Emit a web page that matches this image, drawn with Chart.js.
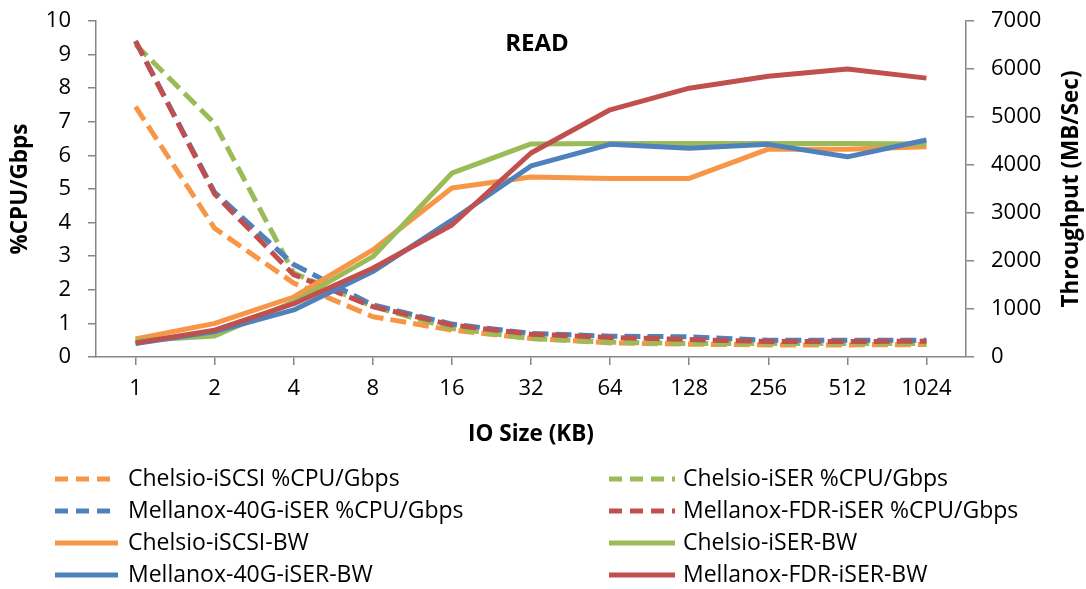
<!DOCTYPE html>
<html>
<head>
<meta charset="utf-8">
<script src="https://cdn.jsdelivr.net/npm/chart.js@4/dist/chart.umd.min.js"></script>
<style>
  html, body { margin: 0; padding: 0; background: #fff; }
  #wrap { width: 1086px; height: 589px; position: relative; }
</style>
</head>
<body>
<div id="wrap"><canvas id="chart"></canvas></div>
<script>
const FONT = '"Open Sans", Lato, sans-serif';

const ioSizes = ['1', '2', '4', '8', '16', '32', '64', '128', '256', '512', '1024'];

const cpuChelsioIscsi = [7.45, 3.83, 2.2, 1.2, 0.8, 0.55, 0.42, 0.38, 0.36, 0.36, 0.37];
const cpuChelsioIser = [9.3, 6.95, 2.5, 1.5, 0.85, 0.55, 0.44, 0.4, 0.4, 0.4, 0.4];
const cpuMellanox40g = [9.4, 4.9, 2.75, 1.55, 0.98, 0.7, 0.62, 0.6, 0.5, 0.5, 0.5];
const cpuMellanoxFdr = [9.4, 4.85, 2.45, 1.5, 0.95, 0.68, 0.58, 0.52, 0.46, 0.46, 0.47];

const bwChelsioIscsi = [375, 700, 1250, 2230, 3520, 3750, 3720, 3720, 4330, 4330, 4380];
const bwChelsioIser = [340, 440, 1150, 2090, 3830, 4440, 4450, 4450, 4450, 4450, 4440];
const bwMellanox40g = [280, 530, 980, 1780, 2850, 3980, 4430, 4350, 4430, 4170, 4520];
const bwMellanoxFdr = [290, 560, 1110, 1850, 2750, 4250, 5150, 5600, 5850, 6000, 5810];

const ORANGE = '#F79646';
const GREEN = '#9BBB59';
const BLUE = '#4F81BD';
const RED = '#C0504D';
const AXIS = '#868686';

const series = [
  {label: 'Chelsio-iSCSI %CPU/Gbps', data: cpuChelsioIscsi, color: ORANGE, axis: 'y', dashed: true},
  {label: 'Chelsio-iSER %CPU/Gbps', data: cpuChelsioIser, color: GREEN, axis: 'y', dashed: true},
  {label: 'Mellanox-40G-iSER %CPU/Gbps', data: cpuMellanox40g, color: BLUE, axis: 'y', dashed: true},
  {label: 'Mellanox-FDR-iSER %CPU/Gbps', data: cpuMellanoxFdr, color: RED, axis: 'y', dashed: true},
  {label: 'Chelsio-iSCSI-BW', data: bwChelsioIscsi, color: ORANGE, axis: 'y1', dashed: false},
  {label: 'Chelsio-iSER-BW', data: bwChelsioIser, color: GREEN, axis: 'y1', dashed: false},
  {label: 'Mellanox-40G-iSER-BW', data: bwMellanox40g, color: BLUE, axis: 'y1', dashed: false},
  {label: 'Mellanox-FDR-iSER-BW', data: bwMellanoxFdr, color: RED, axis: 'y1', dashed: false}
];

const datasets = series.map((s, i) => ({
  label: s.label,
  data: s.data,
  yAxisID: s.axis,
  borderColor: s.color,
  backgroundColor: s.color,
  borderWidth: 5,
  borderDash: s.dashed ? [16, 7] : [],
  borderJoinStyle: 'round',
  pointRadius: 0,
  tension: 0,
  fill: false,
  order: series.length - i
}));

// title, right axis title and the two column legend
const extras = {
  id: 'extras',
  afterDraw(chart) {
    const ctx = chart.ctx;
    const area = chart.chartArea;
    ctx.save();
    ctx.fillStyle = '#000';
    ctx.textAlign = 'center';
    ctx.textBaseline = 'middle';

    ctx.font = `bold 24px ${FONT}`;
    ctx.fillText('READ', (area.left + area.right) / 2 + 6, area.top + 23);

    ctx.save();
    ctx.translate(1072, (area.top + area.bottom) / 2);
    ctx.rotate(-Math.PI / 2);
    ctx.font = `bold 22.5px ${FONT}`;
    ctx.fillText('Throughput (MB/Sec)', 0, 0);
    ctx.restore();

    const cols = [{x0: 55, x1: 118, tx: 128}, {x0: 609, x1: 675, tx: 683}];
    const rows = [479, 511, 543, 575];
    ctx.font = `23px ${FONT}`;
    ctx.textAlign = 'left';
    chart.data.datasets.forEach((ds, i) => {
      const c = cols[i % 2];
      const y = rows[Math.floor(i / 2)];
      ctx.strokeStyle = ds.borderColor;
      ctx.lineWidth = 5;
      ctx.setLineDash(ds.borderDash.length ? [13, 8] : []);
      ctx.beginPath();
      ctx.moveTo(c.x0, y);
      ctx.lineTo(c.x1, y);
      ctx.stroke();
      ctx.setLineDash([]);
      ctx.fillText(ds.label, c.tx, y);
    });
    ctx.restore();
  }
};

const axisGrid = {
  display: true,
  drawOnChartArea: false,
  drawTicks: true,
  tickLength: 8,
  color: AXIS,
  lineWidth: 1.5
};
const axisBorder = {display: true, color: AXIS, width: 1.5};
const tickFont = {family: FONT, size: 22};
const titleFont = {family: FONT, size: 22.5, weight: 'bold'};

function noPad(s) {
  s.paddingTop = 0;
  s.paddingBottom = 0;
  s.paddingLeft = 0;
  s.paddingRight = 0;
}

new Chart(document.getElementById('chart'), {
  type: 'line',
  data: {labels: ioSizes, datasets},
  plugins: [extras],
  options: {
    responsive: true,
    maintainAspectRatio: false,
    animation: false,
    layout: {padding: {top: 21, left: 0, right: 0, bottom: 130}},
    plugins: {
      legend: {display: false},
      tooltip: {enabled: false}
    },
    scales: {
      x: {
        offset: true,
        grid: Object.assign({}, axisGrid, {offset: false}),
        border: axisBorder,
        ticks: {color: '#000', font: tickFont, padding: 11, maxRotation: 0},
        title: {display: true, text: 'IO Size (KB)', color: '#000', font: titleFont, padding: {top: 0, bottom: 11}},
        afterFit(s) { s.height = 102; noPad(s); }
      },
      y: {
        position: 'left',
        min: 0,
        max: 10,
        grid: axisGrid,
        border: axisBorder,
        ticks: {stepSize: 1, color: '#000', font: tickFont, padding: 17},
        title: {display: true, text: '%CPU/Gbps', color: '#000', font: titleFont, padding: {top: 7, bottom: 0}},
        afterFit(s) { s.width = 96; noPad(s); }
      },
      y1: {
        position: 'right',
        min: 0,
        max: 7000,
        grid: axisGrid,
        border: axisBorder,
        ticks: {stepSize: 1000, color: '#000', font: tickFont, padding: 17, callback: (v) => String(v)},
        afterFit(s) { s.width = 120; noPad(s); }
      }
    }
  }
});
</script>
</body>
</html>
